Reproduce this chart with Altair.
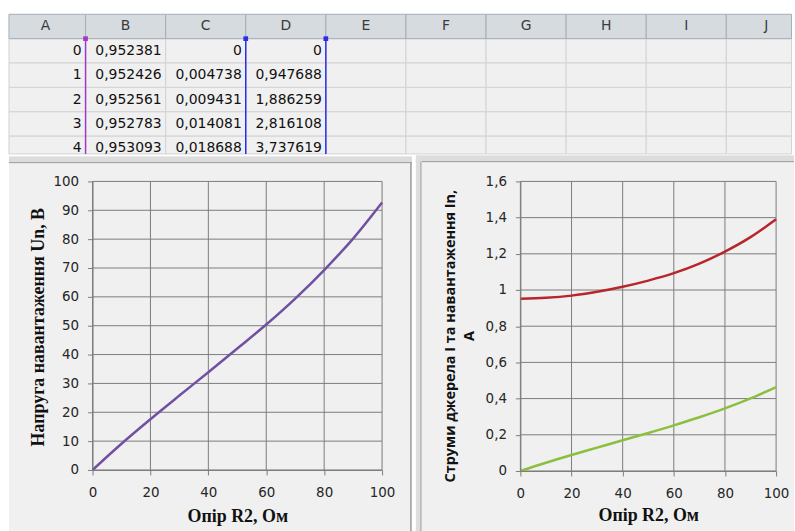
import altair as alt
import pandas as pd

# ---------------- spreadsheet content ----------------
col_letters = ["A", "B", "C", "D", "E", "F", "G", "H", "I", "J"]
col_a = ["0", "1", "2", "3", "4"]
col_b = ["0,952381", "0,952426", "0,952561", "0,952783", "0,953093"]
col_c = ["0", "0,004738", "0,009431", "0,014081", "0,018688"]
col_d = ["0", "0,947688", "1,886259", "2,816108", "3,737619"]

# ---------------- chart data ----------------
r2_ohm = [0, 10, 20, 30, 40, 50, 60, 70, 80, 90, 100]
u_load = [0, 9.1, 17.6, 25.8, 33.9, 42.1, 50.4, 59.4, 69.3, 80.2, 92.7]
i_source = [0.952, 0.957, 0.969, 0.990, 1.018, 1.052, 1.093, 1.146, 1.212, 1.292, 1.391]
i_load = [0, 0.0456, 0.0881, 0.129, 0.170, 0.210, 0.252, 0.297, 0.346, 0.401, 0.464]

x_ticks = [0, 20, 40, 60, 80, 100]
u_ticks = [0, 10, 20, 30, 40, 50, 60, 70, 80, 90, 100]
i_ticks = [0, 0.2, 0.4, 0.6, 0.8, 1, 1.2, 1.4, 1.6]

SHEET_FONT = "DejaVu Sans"
GRID = "#7c7c7c"
CHART_BG = "#f0f0f0"

# visible part of the sheet (in column / row units)
VIS_LEFT, VIS_RIGHT, VIS_BOTTOM = 0.0435, 9.814, 5.73

# ================= spreadsheet =================
cell_rows = []
for ci, letter in enumerate(col_letters):
    for r in range(6):
        cell_rows.append({"c0": max(ci, VIS_LEFT), "c1": min(ci + 1, VIS_RIGHT),
                          "r0": r, "r1": min(r + 1, VIS_BOTTOM),
                          "kind": "h" if r == 0 else "d"})
cells = pd.DataFrame(cell_rows)

sx = alt.Scale(domain=[1.087, 9.82], nice=False, zero=False)
sy = alt.Scale(domain=[0, 5.755], nice=False, zero=False, reverse=True)

data_rect = alt.Chart(cells).transform_filter("datum.kind == 'd'").mark_rect(
    fill="#f0f0f0", stroke="#d3d3d3", strokeWidth=1
).encode(
    x=alt.X("c0:Q", scale=sx, axis=None), x2="c1:Q",
    y=alt.Y("r0:Q", scale=sy, axis=None), y2="r1:Q",
)
hdr_rect = alt.Chart(cells).transform_filter("datum.kind == 'h'").mark_rect(
    fill="#d6dbe0", stroke="#a5acb5", strokeWidth=1
).encode(
    x=alt.X("c0:Q", scale=sx, axis=None), x2="c1:Q",
    y=alt.Y("r0:Q", scale=sy, axis=None), y2="r1:Q",
)

hdr_text_df = pd.DataFrame({"xc": [i + 0.5 for i in range(len(col_letters))],
                            "yc": [0.5] * len(col_letters),
                            "t": col_letters})
hdr_text = alt.Chart(hdr_text_df).mark_text(
    font=SHEET_FONT, fontSize=14, color="#3a3a3a", baseline="middle"
).encode(x=alt.X("xc:Q", scale=sx, axis=None), y=alt.Y("yc:Q", scale=sy, axis=None), text="t:N")

val_rows = []
for ci, col in enumerate([col_a, col_b, col_c, col_d]):
    for ri, v in enumerate(col):
        val_rows.append({"xr": ci + 1, "yc": ri + 1.5, "t": v})
vals = pd.DataFrame(val_rows)
val_text = alt.Chart(vals).mark_text(
    font=SHEET_FONT, fontSize=14, color="#111111", align="right", baseline="middle", dx=-4
).encode(x=alt.X("xr:Q", scale=sx, axis=None), y=alt.Y("yc:Q", scale=sy, axis=None), text="t:N")

rng = pd.DataFrame({"c": [1, 3, 4], "r0": [1, 1, 1], "r1": [VIS_BOTTOM] * 3,
                    "col": ["#a435c8", "#2b2be8", "#2b2be8"]})
rng_rule = alt.Chart(rng).mark_rule(strokeWidth=1.5).encode(
    x=alt.X("c:Q", scale=sx, axis=None),
    y=alt.Y("r0:Q", scale=sy, axis=None), y2="r1:Q",
    color=alt.Color("col:N", scale=None),
)
rng_sq = alt.Chart(rng).mark_square(size=22, opacity=1, dy=2).encode(
    x=alt.X("c:Q", scale=sx, axis=None),
    y=alt.Y("r0:Q", scale=sy, axis=None),
    color=alt.Color("col:N", scale=None),
)

sheet = alt.layer(data_rect, hdr_rect, hdr_text, val_text, rng_rule, rng_sq).properties(
    width=703, height=141
)

# ================= common axis style =================
ax_common = dict(grid=False, zindex=1, domainColor="#7c7c7c", domainWidth=1,
                 tickColor="#7c7c7c", tickSize=5, labelFont="DejaVu Sans",
                 labelFontSize=13.5, labelColor="#262626", labelFlush=False)
one = pd.DataFrame({"k": [0]})


def frame_layers(x0, x1, y0, y1, right_edge, left_edge):
    layers = [
        alt.Chart(one).mark_rect(fill=CHART_BG).encode(
            x=alt.value(x0), x2=alt.value(x1), y=alt.value(y0), y2=alt.value(y1)),
        alt.Chart(one).mark_rect(fill="#dcdcdc").encode(
            x=alt.value(x0), x2=alt.value(x1), y=alt.value(y0), y2=alt.value(y0 + 7)),
        alt.Chart(one).mark_rule(color="#a3a3a3", strokeWidth=1).encode(
            x=alt.value(x0), x2=alt.value(x1), y=alt.value(y0 + 6)),
    ]
    if right_edge:
        layers.append(alt.Chart(one).mark_rule(color="#9b9b9b", strokeWidth=1.5).encode(
            x=alt.value(x1 - 1), y=alt.value(y0 + 6), y2=alt.value(y1)))
    if left_edge:
        layers.append(alt.Chart(one).mark_rect(fill="#dedede").encode(
            x=alt.value(x0), x2=alt.value(x0 + 6), y=alt.value(y0), y2=alt.value(y1)))
        layers.append(alt.Chart(one).mark_rule(color="#a5a5a5", strokeWidth=1).encode(
            x=alt.value(x0 + 5), y=alt.value(y0 + 6), y2=alt.value(y1)))
    return layers


def grid_layers(xs, ys, xsc, ysc, xax, yax, xlo, xhi, ylo, yhi):
    gx = pd.DataFrame({"v": xs, "lo": [ylo] * len(xs), "hi": [yhi] * len(xs)})
    gy = pd.DataFrame({"v": ys, "lo": [xlo] * len(ys), "hi": [xhi] * len(ys)})
    return [
        alt.Chart(gx).mark_rule(color=GRID, strokeWidth=1).encode(
            x=alt.X("v:Q", scale=xsc, axis=xax),
            y=alt.Y("lo:Q", scale=ysc, axis=yax), y2="hi:Q"),
        alt.Chart(gy).mark_rule(color=GRID, strokeWidth=1).encode(
            y=alt.Y("v:Q", scale=ysc, axis=yax),
            x=alt.X("lo:Q", scale=xsc, axis=xax), x2="hi:Q"),
    ]


# ================= left chart: load voltage =================
lx = alt.Scale(domain=[0, 100], nice=False, zero=False)
ly = alt.Scale(domain=[0, 100], nice=False, zero=False)
df_u = pd.DataFrame({"r": r2_ohm, "u": u_load})

lx_axis = alt.Axis(
    values=x_ticks, labelPadding=11, title="Опір R2, Ом",
    titleFont="Liberation Serif", titleFontSize=18, titleFontWeight="bold",
    titleColor="#111111", titleBaseline="alphabetic", titleY=52, **ax_common)
ly_axis = alt.Axis(
    values=u_ticks, labelPadding=9, title="Напруга навантаження  Un,  В",
    titleFont="Liberation Serif", titleFontSize=18, titleFontWeight="bold",
    titleColor="#111111", titleBaseline="alphabetic", titleAngle=270,
    titleAlign="center", titleX=-49, titleY=146, **ax_common)

line_u = alt.Chart(df_u).mark_line(color="#7050a2", strokeWidth=2.5, interpolate="monotone").encode(
    x=alt.X("r:Q", scale=lx, axis=lx_axis),
    y=alt.Y("u:Q", scale=ly, axis=ly_axis),
)

left = alt.layer(
    *frame_layers(-84, 321, -25, 353, right_edge=True, left_edge=False),
    *grid_layers(x_ticks, u_ticks, lx, ly, lx_axis, ly_axis, 0, 100, 0, 100),
    line_u,
).properties(width=291, height=290)

# ================= right chart: currents =================
rx = alt.Scale(domain=[0, 100], nice=False, zero=False)
ry = alt.Scale(domain=[0, 1.6], nice=False, zero=False)
df_i = pd.DataFrame({
    "r": r2_ohm * 2,
    "i": i_source + i_load,
    "s": ["I"] * len(r2_ohm) + ["In"] * len(r2_ohm),
})

rx_axis = alt.Axis(
    values=x_ticks, labelPadding=11, title="Опір R2, Ом",
    titleFont="Liberation Serif", titleFontSize=18, titleFontWeight="bold",
    titleColor="#111111", titleBaseline="alphabetic", titleY=50, **ax_common)
ry_axis = alt.Axis(
    values=i_ticks, labelPadding=9,
    labelExpr="replace(format(datum.value, '~g'), '.', ',')",
    title=["Струми джерела І та навантаження Іn,", "А"],
    titleFont="Open Sans", titleFontSize=14.5, titleFontWeight="bold",
    titleColor="#111111", titleBaseline="alphabetic", titleAngle=270,
    titleAlign="center", titleX=-66, titleY=155, titleLineHeight=19, **ax_common)

line_i = alt.Chart(df_i).mark_line(strokeWidth=2.5, interpolate="monotone").encode(
    x=alt.X("r:Q", scale=rx, axis=rx_axis),
    y=alt.Y("i:Q", scale=ry, axis=ry_axis),
    color=alt.Color("s:N", scale=alt.Scale(domain=["I", "In"], range=["#b8262b", "#8cbf3f"]),
                    legend=None),
)

right = alt.layer(
    *frame_layers(-105, 275, -26, 352, right_edge=False, left_edge=True),
    *grid_layers(x_ticks, i_ticks, rx, ry, rx_axis, ry_axis, 0, 100, 0, 1.6),
    line_i,
).properties(width=257, height=291)

bottom = alt.hconcat(left, right, spacing=2)

chart = alt.vconcat(sheet, bottom, spacing=0).properties(
    padding={"left": 8, "top": 12, "right": 0, "bottom": 0},
    background="white",
).configure_view(strokeWidth=0)

chart.save("out.html", embed_options={"renderer": "svg", "actions": False})
